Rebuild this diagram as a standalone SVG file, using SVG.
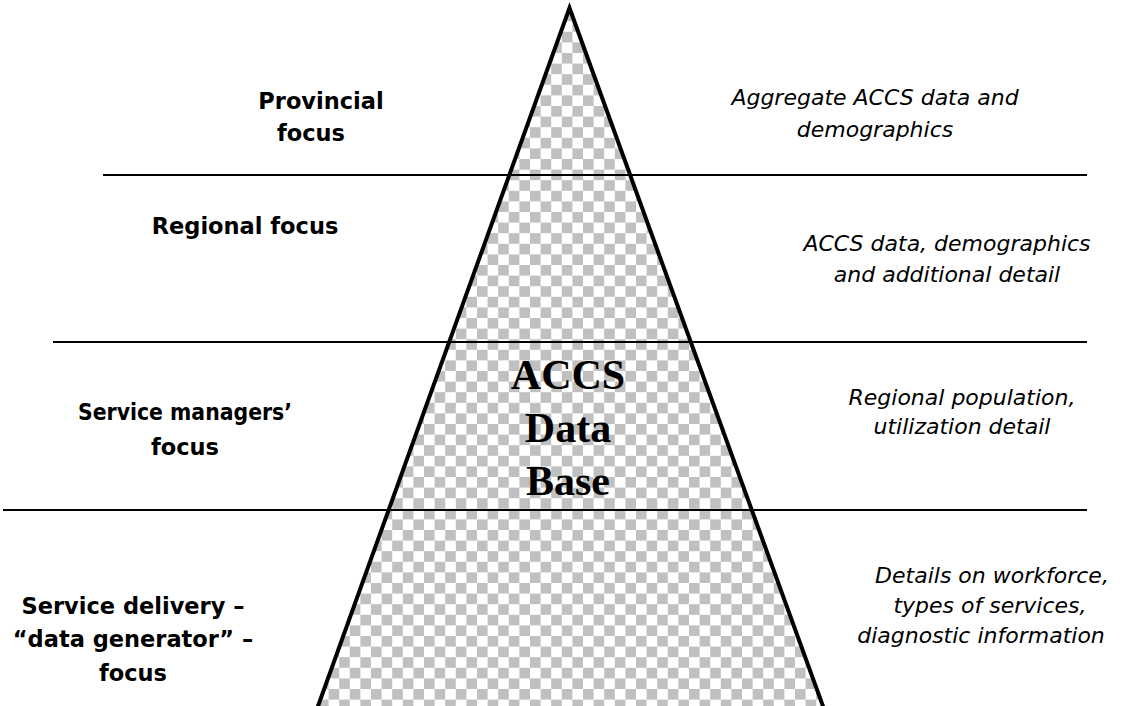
<svg xmlns="http://www.w3.org/2000/svg" width="1125" height="706" viewBox="0 0 1125 706">
  <style>
    .lbl { font-family: Tahoma, "DejaVu Sans", Verdana, sans-serif; font-weight: bold; font-size: 22.5px; fill: #000; text-anchor: middle; }
    .desc { font-family: Tahoma, "DejaVu Sans", Verdana, sans-serif; font-style: italic; font-size: 22px; fill: #000; text-anchor: middle; }
    .core { font-family: "Liberation Serif", "Times New Roman", serif; font-weight: bold; font-size: 42px; fill: #000; text-anchor: middle; }
    .tier { stroke: #000; stroke-width: 2; }
  </style>
  <defs>
    <pattern id="checker" patternUnits="userSpaceOnUse" x="0" y="0" width="21.2" height="21.2">
      <rect width="21.2" height="21.2" fill="#ffffff"/>
      <rect x="0" y="0" width="10.6" height="10.6" fill="#c0c0c0"/>
      <rect x="10.6" y="10.6" width="10.6" height="10.6" fill="#c0c0c0"/>
    </pattern>
  </defs>
  <rect width="1125" height="706" fill="#ffffff"/>

  <!-- pyramid body -->
  <g id="pyramid">
    <polygon points="569.5,8 313,720 828,720" fill="url(#checker)"/>
  </g>

  <!-- tier dividers -->
  <g id="connectors">
    <line class="tier" x1="103" y1="175" x2="1087" y2="175"/>
    <line class="tier" x1="53" y1="342" x2="1087" y2="342"/>
    <line class="tier" x1="3" y1="510" x2="1087" y2="510"/>
  </g>

  <g id="pyramid-outline">
    <polyline points="313,720 569.5,8 828,720" fill="none" stroke="#000" stroke-width="4" stroke-linejoin="miter"/>
  </g>

  <g id="core-label">
    <text class="core" x="568" y="389">ACCS</text>
    <text class="core" x="568" y="442">Data</text>
    <text class="core" x="568" y="495">Base</text>
  </g>

  <!-- left: level of focus -->
  <g id="provincial">
    <text class="lbl" x="321" y="109">Provincial</text>
    <text class="lbl" x="311" y="141">focus</text>
  </g>
  <g id="regional">
    <text class="lbl" x="245" y="234">Regional focus</text>
  </g>
  <g id="managers">
    <text class="lbl" x="185" y="420" textLength="214" lengthAdjust="spacingAndGlyphs">Service managers’</text>
    <text class="lbl" x="185" y="455">focus</text>
  </g>
  <g id="delivery">
    <text class="lbl" x="133" y="614">Service delivery –</text>
    <text class="lbl" x="133" y="647">“data generator” –</text>
    <text class="lbl" x="133" y="681">focus</text>
  </g>

  <!-- right: data held at each level -->
  <g id="provincial-data">
    <text class="desc" x="875" y="105">Aggregate ACCS data and</text>
    <text class="desc" x="875" y="137">demographics</text>
  </g>
  <g id="regional-data">
    <text class="desc" x="947" y="251">ACCS data, demographics</text>
    <text class="desc" x="947" y="282">and additional detail</text>
  </g>
  <g id="managers-data">
    <text class="desc" x="962" y="405">Regional population,</text>
    <text class="desc" x="962" y="434">utilization detail</text>
  </g>
  <g id="delivery-data">
    <text class="desc" x="992" y="583">Details on workforce,</text>
    <text class="desc" x="990" y="613">types of services,</text>
    <text class="desc" x="981" y="643">diagnostic information</text>
  </g>
</svg>
